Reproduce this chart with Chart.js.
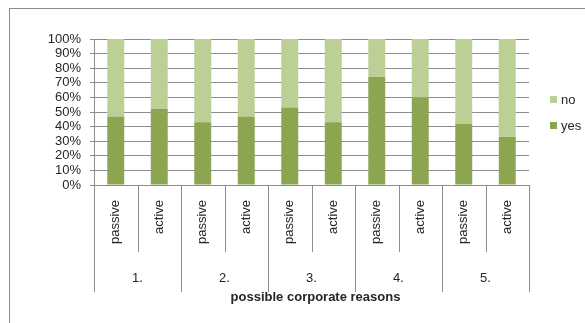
<!DOCTYPE html>
<html>
<head>
<meta charset="utf-8">
<script src="https://cdn.jsdelivr.net/npm/chart.js@4"></script>
<style>
  html, body { margin: 0; padding: 0; background: #fff; }
  #wrap { width: 585px; height: 323px; position: relative; }
</style>
</head>
<body>
<div id="wrap"><canvas id="chart"></canvas></div>
<script>
// inner categories, outer groups and values (percent)
const bars = ["passive", "active", "passive", "active", "passive", "active", "passive", "active", "passive", "active"];
const groups = ["1.", "2.", "3.", "4.", "5."];
const yesValues = [47, 52, 43, 47, 53, 43, 74, 60, 42, 33];
const noValues = [53, 48, 57, 53, 47, 57, 26, 40, 58, 67];
const axisTitle = "possible corporate reasons";

const FONT = "'Liberation Sans', Arial, sans-serif";
const TEXT = "#262626";
const LINE = "#8c8c8c";

// frame round the chart, group separators / labels under the x axis, title and legend
const excelBits = {
  id: "excelBits",
  beforeDraw(chart) {
    const ctx = chart.ctx;
    ctx.save();
    ctx.strokeStyle = LINE;
    ctx.lineWidth = 1;
    ctx.strokeRect(9.5, 8.5, 700, 500);
    ctx.restore();
  },
  afterDraw(chart) {
    const ctx = chart.ctx;
    const x = chart.scales.x;
    const bottom = chart.chartArea.bottom;
    const step = x.getPixelForValue(1) - x.getPixelForValue(0);
    const start = x.getPixelForValue(0) - step / 2;
    ctx.save();
    ctx.strokeStyle = LINE;
    ctx.lineWidth = 1;
    for (let b = 0; b <= bars.length; b++) {
      const px = Math.round(start + b * step) + 0.5;
      ctx.beginPath();
      ctx.moveTo(px, bottom);
      ctx.lineTo(px, b % 2 === 0 ? 292 : 252);
      ctx.stroke();
    }
    ctx.fillStyle = TEXT;
    ctx.font = "13px " + FONT;
    ctx.textAlign = "center";
    ctx.textBaseline = "middle";
    groups.forEach((g, i) => {
      ctx.fillText(g, start + (i * 2 + 1) * step, 278);
    });
    ctx.font = "bold 13px " + FONT;
    ctx.fillText(axisTitle, (chart.chartArea.left + chart.chartArea.right) / 2 + 4, 297);

    // legend, top entry is the top of the stack
    const legendY = { no: 99, yes: 125 };
    ctx.font = "13px " + FONT;
    ctx.textAlign = "left";
    chart.data.datasets.forEach((ds) => {
      const y = legendY[ds.label];
      ctx.fillStyle = ds.backgroundColor;
      ctx.fillRect(550, y - 3, 7, 7);
      ctx.fillStyle = TEXT;
      ctx.fillText(ds.label, 561, y + 1);
    });
    ctx.restore();
  },
};

new Chart(document.getElementById("chart"), {
  type: "bar",
  data: {
    labels: bars,
    datasets: [
      { label: "yes", data: yesValues, backgroundColor: "#8ba550", barPercentage: 0.39, categoryPercentage: 1 },
      { label: "no", data: noValues, backgroundColor: "#bccf95", barPercentage: 0.39, categoryPercentage: 1 },
    ],
  },
  options: {
    responsive: true,
    maintainAspectRatio: false,
    animation: false,
    layout: { padding: { left: 10, right: 56, top: 39, bottom: 0 } },
    plugins: { legend: { display: false }, tooltip: { enabled: false } },
    scales: {
      x: {
        stacked: true,
        grid: { display: true, drawOnChartArea: false, drawTicks: false },
        border: { display: true, color: LINE },
        ticks: { minRotation: 90, maxRotation: 90, autoSkip: false, padding: 15, color: TEXT, font: { family: FONT, size: 13 } },
        afterFit: (s) => { s.height = 138; },
      },
      y: {
        stacked: true,
        min: 0,
        max: 100,
        grid: { color: LINE, tickLength: 4, tickColor: LINE },
        border: { display: true, color: LINE },
        ticks: { stepSize: 10, autoSkip: false, padding: 9, color: TEXT, font: { family: FONT, size: 13 }, callback: (v) => v + "%" },
        afterFit: (s) => { s.width = 84; },
      },
    },
  },
  plugins: [excelBits],
});
</script>
</body>
</html>
